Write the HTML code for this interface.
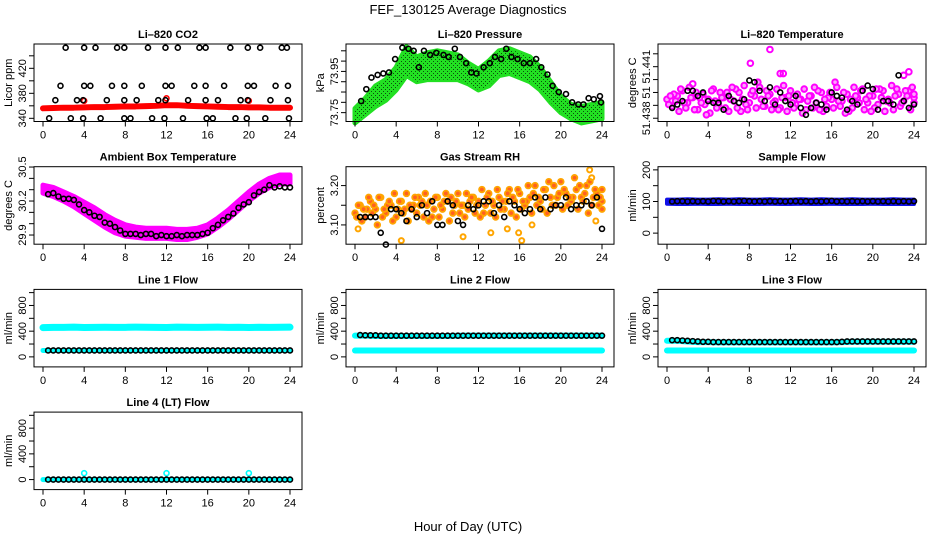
<!DOCTYPE html>
<html><head><meta charset="utf-8"><style>
html,body{margin:0;padding:0;background:#fff;}
svg{display:block;font-family:"Liberation Sans",sans-serif;}
</style></head><body>
<svg id="fig" width="936" height="540" viewBox="0 0 936 540">
<defs>
<pattern id="speck" width="4" height="4" patternUnits="userSpaceOnUse"><rect width="4" height="4" fill="#22e022"/><rect x="1" y="1" width="1" height="1" fill="#0a500a"/><rect x="3" y="3" width="1" height="1" fill="#0a500a"/></pattern>
</defs>
<text x="468" y="14" font-size="13" text-anchor="middle">FEF_130125  Average Diagnostics</text>
<text x="468" y="531" font-size="13" text-anchor="middle">Hour of Day (UTC)</text>
</svg>
<script>
// ---------- data ----------
const xTicks = [0,4,8,12,16,20,24];
const hourly = [0,1,2,3,4,5,6,7,8,9,10,11,12,13,14,15,16,17,18,19,20,21,22,23,24];

const co2RedCenter = [356,356.5,357,357,357.5,358,358,358.5,359,359,359.5,360,361,361,360,359.5,359,358.5,358,358,357.5,357.5,357,357,357];
const co2SpikeTimes = [4,12,20];
const co2SpikeVals = [368,372,368];
const co2BlackTimes = [2.2,4,5.1,7.2,7.9,10.2,11.9,13.1,15.2,15.8,18.2,19.9,21.1,23.2,23.7,
 1.7,4,4.6,6.7,7.9,9.6,11.9,12.5,14.7,15.8,17.6,19.9,20.5,22.6,23.8,
 1.2,3.3,3.9,6.2,7.9,9.1,11.2,11.9,14.1,15.8,17.0,19.2,19.9,22.1,23.8,
 0.6,2.7,3.9,5.6,7.9,8.5,10.6,11.8,13.6,15.9,16.5,18.7,19.8,21.6,23.9];
const co2BlackVals = [453,453,453,453,453,453,453,453,453,453,453,453,453,453,453,
 392,392,392,392,392,392,392,392,392,392,392,392,392,392,392,
 369,369,369,369,369,369,369,369,369,369,369,369,369,369,369,
 340,340,340,340,340,340,340,340,340,340,340,340,340,340,340];

const presLo = [73.70,73.74,73.78,73.81,73.86,73.93,73.90,73.91,73.91,73.91,73.91,73.89,73.86,73.88,73.93,73.94,73.92,73.90,73.86,73.80,73.75,73.72,73.70,73.71,73.72];
const presHi = [73.77,73.82,73.88,73.91,73.97,74.07,74.02,74.04,74.05,74.04,74.03,73.99,73.96,74.00,74.05,74.06,74.04,74.02,73.97,73.90,73.83,73.79,73.78,73.79,73.80];
const presBlackTimes = [0.6,1.1,1.6,2.2,2.75,3.3,3.9,4.6,5.2,5.7,6.2,6.7,7.3,7.9,8.6,9.1,9.7,10.2,10.8,11.3,11.8,12.5,13.1,13.6,14.2,14.7,15.2,15.8,16.4,17.0,17.6,18.1,18.7,19.2,19.8,20.5,21.1,21.7,22.2,22.7,23.2,23.8,23.9];
const presBlackVals = [73.806,73.864,73.92,73.933,73.94,73.945,74.01,74.065,74.06,74.05,73.97,74.05,74.03,74.04,74.03,74.02,74.06,74.02,73.99,73.945,73.94,73.97,73.99,74.02,74.01,74.06,74.02,74.01,73.99,73.99,74.01,73.97,73.935,73.88,73.85,73.84,73.80,73.79,73.79,73.82,73.815,73.83,73.80];

const tempPinkA = [51.4391,51.4387,51.4393,51.4396,51.4389,51.4392,51.4385,51.4394,51.4391,51.4397,51.4388,51.4392,51.4384,51.4390,51.4395,51.4399,51.4389,51.4393,51.4398,51.4387,51.4394,51.4390,51.4386,51.4392,51.4396,51.4388,51.4391,51.4385,51.4393,51.4389,51.4395,51.4387,51.4391,51.4398,51.4390,51.4394,51.4386,51.4392,51.4397,51.4389,51.4393,51.4388,51.4396,51.4391,51.4385,51.4394,51.4390,51.4396,51.4389];
const tempPinkB = [51.4388,51.4394,51.4384,51.4389,51.4398,51.4385,51.4392,51.4388,51.4383,51.4390,51.4395,51.4386,51.4391,51.4397,51.4384,51.4388,51.4394,51.4386,51.4391,51.4396,51.4385,51.4397,51.4392,51.4384,51.4389,51.4394,51.4383,51.4390,51.4386,51.4396,51.4384,51.4392,51.4386,51.4390,51.4395,51.4384,51.4398,51.4389,51.4385,51.4393,51.4386,51.4397,51.4384,51.4389,51.4393,51.4387,51.4396,51.4385,51.4392];
const tempPinkC = [51.4393,51.4390,51.4397,51.4386,51.4392,51.4395,51.4389,51.4382,51.4396,51.4386,51.4392,51.4395,51.4398,51.4386,51.4391,51.4385,51.4396,51.4401,51.4387,51.4393,51.4389,51.4385,51.4399,51.4393,51.4386,51.4391,51.4397,51.4393,51.4398,51.4385,51.4391,51.4395,51.4401,51.4387,51.4383,51.4391,51.4393,51.4396,51.4391,51.4384,51.4397,51.4392,51.4390,51.4399,51.4397,51.4389,51.4393,51.4398,51.4394];
const tempOutTimes = [8.1,10.0,11.0,11.3,23.0,23.5,2.5];
const tempOutVals = [51.4412,51.4420,51.4406,51.4406,51.4405,51.4407,51.4400];
const tempBlack = [51.4386,51.4388,51.4390,51.4396,51.4396,51.4393,51.4395,51.4390,51.4389,51.4389,51.4385,51.4393,51.4390,51.4389,51.4391,51.4402,51.4401,51.4396,51.4390,51.4398,51.4388,51.4395,51.4390,51.4388,51.4393,51.4386,51.4382,51.4386,51.4389,51.4388,51.4385,51.4395,51.4393,51.4392,51.4385,51.4390,51.4388,51.4396,51.4399,51.4397,51.4385,51.4390,51.4390,51.4388,51.4405,51.4390,51.4386,51.4388];

const ambHi = [30.34,30.32,30.28,30.24,30.19,30.14,30.08,30.03,29.99,29.97,29.96,29.96,29.96,29.95,29.95,29.96,29.99,30.05,30.12,30.20,30.28,30.35,30.40,30.43,30.43];
const ambLo = [30.27,30.24,30.20,30.15,30.09,30.03,29.97,29.92,29.89,29.88,29.87,29.87,29.87,29.86,29.86,29.88,29.91,29.97,30.04,30.12,30.20,30.27,30.32,30.35,30.35];
const ambBlack = [30.26,30.27,30.24,30.22,30.22,30.21,30.17,30.12,30.10,30.07,30.06,30.01,30.00,29.97,29.94,29.91,29.91,29.91,29.90,29.91,29.91,29.89,29.90,29.89,29.89,29.90,29.89,29.90,29.90,29.90,29.91,29.92,29.96,29.99,30.03,30.06,30.09,30.14,30.17,30.19,30.25,30.28,30.30,30.34,30.32,30.33,30.32,30.32];

const rhOrA = [3.13,3.15,3.12,3.16,3.14,3.17,3.13,3.15,3.12,3.16,3.18,3.14,3.13,3.16,3.15,3.12,3.17,3.14,3.16,3.13,3.18,3.15,3.14,3.17,3.16,3.13,3.18,3.15,3.17,3.14,3.19,3.16,3.18,3.15,3.17,3.20,3.16,3.19,3.17,3.15,3.21,3.18,3.16,3.19,3.17,3.20,3.15,3.18,3.16];
const rhOrB = [3.12,3.11,3.14,3.13,3.10,3.12,3.15,3.11,3.14,3.13,3.11,3.15,3.17,3.12,3.11,3.14,3.12,3.16,3.11,3.15,3.13,3.12,3.16,3.13,3.12,3.15,3.13,3.12,3.14,3.16,3.13,3.12,3.14,3.16,3.13,3.15,3.14,3.13,3.15,3.17,3.14,3.15,3.17,3.14,3.16,3.13,3.17,3.15,3.14];
const rhOrC = [3.15,3.14,3.17,3.15,3.17,3.14,3.16,3.18,3.16,3.14,3.15,3.17,3.15,3.18,3.16,3.17,3.15,3.18,3.17,3.16,3.15,3.18,3.17,3.15,3.19,3.17,3.16,3.19,3.16,3.18,3.17,3.19,3.16,3.20,3.18,3.17,3.19,3.21,3.20,3.18,3.19,3.17,3.22,3.20,3.18,3.21,3.19,3.17,3.19];
const rhOutTimes = [0.3,4.5,10.5,13.2,14.8,15.9,16.2,17.2,22.8,23.4,23.0];
const rhOutVals = [3.09,3.06,3.07,3.08,3.09,3.08,3.06,3.10,3.24,3.11,3.22];
const rhBlack = [3.12,3.12,3.12,3.12,3.08,3.05,3.14,3.14,3.13,3.11,3.14,3.12,3.15,3.13,3.16,3.10,3.10,3.16,3.15,3.11,3.10,3.15,3.14,3.15,3.16,3.16,3.13,3.15,3.12,3.16,3.15,3.14,3.13,3.14,3.17,3.14,3.17,3.14,3.15,3.15,3.17,3.14,3.15,3.15,3.16,3.15,3.17,3.09];

const sampleLo = [93,92,92,93,92,92,93,92,92,92,93,92,92,93,92,92,93,92,92,92,93,92,92,92,92];
const sampleHi = [106,106,107,106,106,107,106,107,106,106,107,106,106,107,106,107,106,106,107,106,106,106,107,106,106];
const sampleBlack = [100,101,101,100,101,100,101,100,102,101,100,101,100,101,102,101,100,101,100,101,100,101,100,101,101,100,101,100,101,100,101,102,100,101,100,101,100,101,100,101,100,101,100,101,100,101,100,101];

const l1CyanHi = [455,460,460,462,458,460,461,460,460,462,461,460,458,462,461,460,461,462,460,461,458,461,460,461,462];
const l1CyanLo = [100,100,100,100,100,100,100,100,100,100,100,100,100,100,100,100,100,100,100,100,100,100,100,100,100];
const l1Black = [100,100,100,100,100,100,100,100,100,100,100,100,100,100,100,100,100,100,100,100,100,100,100,100,100,100,100,100,100,100,100,100,100,100,100,100,100,100,100,100,100,100,100,100,100,100,100,100];
const l2CyanHi = [330,330,325,325,325,325,325,325,325,325,328,330,330,330,330,330,330,330,330,330,330,330,330,330,330];
const l2CyanLo = [100,100,100,100,100,100,100,100,100,100,100,100,100,100,100,100,100,100,100,100,100,100,100,100,100];
const l2Black = [340,335,335,335,330,330,330,330,330,330,330,330,330,330,330,330,330,330,330,330,330,330,330,330,330,330,330,330,330,330,330,330,330,330,330,330,330,330,330,330,330,330,330,330,330,330,330,330];
const l3CyanHi = [250,250,240,230,230,225,225,225,225,225,225,225,225,225,225,225,225,230,235,235,235,235,235,235,235];
const l3CyanLo = [100,100,100,100,100,100,100,100,100,100,100,100,100,100,100,100,100,100,100,100,100,100,100,100,100];
const l3Black = [260,260,255,250,245,240,235,235,230,230,230,230,230,230,230,230,230,230,230,230,230,230,230,230,230,230,230,230,230,230,230,230,230,235,240,240,240,240,240,240,240,240,240,240,240,240,240,240];
const l4CyanLo = [0,0,0,0,0,0,0,0,0,0,0,0,0,0,0,0,0,0,0,0,0,0,0,0,0];
const l4SpikeTimes = [4,12,20];
const l4SpikeVals = [100,100,100];
const l4Black = [0,0,0,0,0,0,0,0,0,0,0,0,0,0,0,0,0,0,0,0,0,0,0,0,0,0,0,0,0,0,0,0,0,0,0,0,0,0,0,0,0,0,0,0,0,0,0,0];

// ---------- drawing ----------
const NS = 'http://www.w3.org/2000/svg';
const svg = document.getElementById('fig');
function mk(tag, attrs, parent){ const e=document.createElementNS(NS,tag); for(const k in attrs) e.setAttribute(k,attrs[k]); (parent||svg).appendChild(e); return e; }
function halfTimes(n){ const a=[]; for(let i=0;i<n;i++) a.push(0.5+i*0.5); return a; }
function denseTimes(n){ const a=[]; for(let i=0;i<n;i++) a.push(i*24/(n-1)); return a; }

function panel(cfg){
  const left = 34 + 312*cfg.col, top = 44 + 122.7*cfg.row, w = 268, h = 77.5, bottom = top+h;
  const g = mk('g',{});
  
  
  const xs = t => left + 9 + t*(247/24);
  const ys = v => bottom - (v - cfg.ylim[0])/(cfg.ylim[1]-cfg.ylim[0])*h;
  const t = mk('text',{x:left+w/2,y:top-6,'font-size':11,'font-weight':'bold','text-anchor':'middle'},g);
  t.textContent = cfg.title;
  
  
  const plot = mk('g',{},g);
  
  
  cfg.draw(plot, xs, ys);
  const box = mk('rect',{x:left,y:top,width:w,height:h,fill:'none',stroke:'#000','stroke-width':1},g);
  
  
  const xa = mk('g',{},g);
  
  
  xTicks.forEach(v=>{
    mk('line',{x1:xs(v),x2:xs(v),y1:bottom,y2:bottom+5,stroke:'#000'},xa);
    const l = mk('text',{x:xs(v),y:bottom+17,'font-size':11,'text-anchor':'middle'},xa);
    l.textContent = v;
    
    
  });
  const ya = mk('g',{},g);
  
  
  cfg.yticks.forEach((v,i)=>{
    const y = ys(v);
    mk('line',{x1:left-5,x2:left,y1:y,y2:y,stroke:'#000'},ya);
    if(cfg.ylabels[i]){
      const l = mk('text',{x:left-8,y:y,'font-size':11,'text-anchor':'middle',transform:`rotate(-90 ${left-8} ${y})`},ya);
      l.textContent = cfg.ylabels[i];
      
      
    }
  });
  const yt = mk('text',{x:left-22,y:top+h/2,'font-size':11,'text-anchor':'middle',transform:`rotate(-90 ${left-22} ${top+h/2})`},g);
  yt.textContent = cfg.ylab;
  
  
}

function pts(g, xs, ys, times, vals, color, name, fill, r, sw){
  const s = mk('g',{},g);
  
  
  vals.forEach((v,i)=>{
    const c = mk('circle',{cx:xs(times[i]),cy:ys(v),r:r||2.5,fill:fill||'none',stroke:color,'stroke-width':sw||1.6},s);
    
    
  });
}
function band(g, xs, ys, lo, hi, color, name, sw){
  let d='';
  hourly.forEach((t,i)=>{ d += (i?'L':'M')+xs(t)+' '+ys(hi[i]); });
  for(let i=hourly.length-1;i>=0;i--) d += 'L'+xs(hourly[i])+' '+ys(lo[i]);
  d+='Z';
  const p = mk('path',{d:d,fill:color,stroke:sw?color:'none','stroke-width':sw||0,'stroke-linejoin':'round'},g);
  
  
}
function line(g, xs, ys, vals, color, name, sw){
  const p = mk('polyline',{points:hourly.map((t,i)=>xs(t)+','+ys(vals[i])).join(' '),fill:'none',stroke:color,'stroke-width':sw,'stroke-linecap':'round','stroke-linejoin':'round'},g);
  
  
}

const flowTicks=[0,200,400,600,800,1000], flowLabels=['0','','400','','800',''];
const H48 = halfTimes(48), D49 = denseTimes(49);

panel({name:'co2-panel',col:0,row:0,title:'Li\u2013820 CO2',ylab:'Licor ppm',ylim:[334.9,458.9],yticks:[340,360,380,400,420,440],ylabels:['340','','380','','420',''],
 draw:(g,xs,ys)=>{ line(g,xs,ys,co2RedCenter,'#ff0000','co2-red-series',6);
   pts(g,xs,ys,co2SpikeTimes,co2SpikeVals,'#ff0000','co2-red-spikes');
   pts(g,xs,ys,co2BlackTimes,co2BlackVals,'#000','co2-black-series'); }});
panel({name:'pressure-panel',col:1,row:0,title:'Li\u2013820 Pressure',ylab:'kPa',ylim:[73.707,74.083],yticks:[73.75,73.80,73.85,73.90,73.95,74.00,74.05],ylabels:['73.75','','','','73.95','',''],
 draw:(g,xs,ys)=>{ band(g,xs,ys,presLo,presHi,'#22e022','pressure-green-edge',5);
   band(g,xs,ys,presLo,presHi,'url(#speck)','pressure-green-series',0);
   pts(g,xs,ys,presBlackTimes,presBlackVals,'#000','pressure-black-series'); }});
panel({name:'licor-temp-panel',col:2,row:0,title:'Li\u2013820 Temperature',ylab:'degrees C',ylim:[51.43781,51.44232],yticks:[51.438,51.43875,51.4395,51.44025,51.441,51.44175],ylabels:['51.438','','51','','51.441',''],
 draw:(g,xs,ys)=>{ pts(g,xs,ys,D49,tempPinkA,'#ff00ff','temp-pink-a','#ffa0ff',2.8,2);
   pts(g,xs,ys,D49.map(t=>Math.min(24,t+0.17)),tempPinkB,'#ff00ff','temp-pink-b','#ffa0ff',2.8,2);
   pts(g,xs,ys,D49.map(t=>Math.min(24,t+0.33)),tempPinkC,'#ff00ff','temp-pink-c','#ffa0ff',2.8,2);
   pts(g,xs,ys,tempOutTimes,tempOutVals,'#ff00ff','temp-pink-outliers',null,2.8,2);
   pts(g,xs,ys,H48,tempBlack,'#000','temp-black-series'); }});
panel({name:'ambient-temp-panel',col:0,row:1,title:'Ambient Box Temperature',ylab:'degrees C',ylim:[29.819,30.503],yticks:[29.9,30.0,30.1,30.2,30.3,30.4,30.5],ylabels:['29.9','','','30.2','','','30.5'],
 draw:(g,xs,ys)=>{ band(g,xs,ys,ambLo,ambHi,'#ff00ff','ambient-magenta-series',5);
   pts(g,xs,ys,H48,ambBlack,'#000','ambient-black-series'); }});
panel({name:'rh-panel',col:1,row:1,title:'Gas Stream RH',ylab:'percent',ylim:[3.051,3.248],yticks:[3.10,3.15,3.20],ylabels:['3.10','','3.20'],
 draw:(g,xs,ys)=>{ pts(g,xs,ys,D49,rhOrA,'#ffa500','rh-orange-a','#ff6020',2.8,1.8);
   pts(g,xs,ys,D49.map(t=>Math.min(24,t+0.17)),rhOrB,'#ffa500','rh-orange-b','#ff6020',2.8,1.8);
   pts(g,xs,ys,D49.map(t=>Math.min(24,t+0.33)),rhOrC,'#ffa500','rh-orange-c','#ff6020',2.8,1.8);
   pts(g,xs,ys,rhOutTimes,rhOutVals,'#ffa500','rh-orange-outliers',null,2.5,2);
   pts(g,xs,ys,H48,rhBlack,'#000','rh-black-series'); }});
panel({name:'sample-flow-panel',col:2,row:1,title:'Sample Flow',ylab:'ml/min',ylim:[-35,210],yticks:[0,50,100,150,200],ylabels:['0','','100','','200'],
 draw:(g,xs,ys)=>{ band(g,xs,ys,sampleLo,sampleHi,'#1010e8','sample-blue-series',4);
   pts(g,xs,ys,H48,sampleBlack,'#000','sample-black-series'); }});
panel({name:'line1-flow-panel',col:0,row:2,title:'Line 1 Flow',ylab:'ml/min',ylim:[-156,1050],yticks:flowTicks,ylabels:flowLabels,
 draw:(g,xs,ys)=>{ line(g,xs,ys,l1CyanHi,'#00ffff','line1-cyan-high',7);
   line(g,xs,ys,l1CyanLo,'#00ffff','line1-cyan-low',5);
   pts(g,xs,ys,H48,l1Black,'#000','line1-black-series'); }});
panel({name:'line2-flow-panel',col:1,row:2,title:'Line 2 Flow',ylab:'ml/min',ylim:[-156,1050],yticks:flowTicks,ylabels:flowLabels,
 draw:(g,xs,ys)=>{ line(g,xs,ys,l2CyanHi,'#00ffff','line2-cyan-high',6);
   line(g,xs,ys,l2CyanLo,'#00ffff','line2-cyan-low',6);
   pts(g,xs,ys,H48,l2Black,'#000','line2-black-series'); }});
panel({name:'line3-flow-panel',col:2,row:2,title:'Line 3 Flow',ylab:'ml/min',ylim:[-156,1050],yticks:flowTicks,ylabels:flowLabels,
 draw:(g,xs,ys)=>{ line(g,xs,ys,l3CyanHi,'#00ffff','line3-cyan-high',6);
   line(g,xs,ys,l3CyanLo,'#00ffff','line3-cyan-low',6);
   pts(g,xs,ys,H48,l3Black,'#000','line3-black-series'); }});
panel({name:'line4-flow-panel',col:0,row:3,title:'Line 4 (LT) Flow',ylab:'ml/min',ylim:[-156,1050],yticks:flowTicks,ylabels:flowLabels,
 draw:(g,xs,ys)=>{ line(g,xs,ys,l4CyanLo,'#00ffff','line4-cyan-series',5);
   pts(g,xs,ys,l4SpikeTimes,l4SpikeVals,'#00ffff','line4-cyan-spikes');
   pts(g,xs,ys,H48,l4Black,'#000','line4-black-series'); }});
</script>
</body></html>
